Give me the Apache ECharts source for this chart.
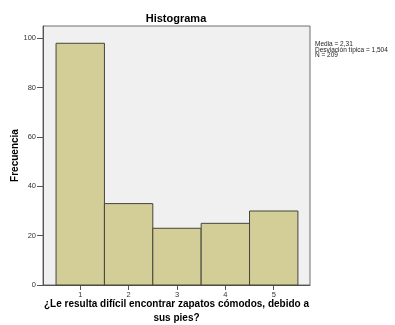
<!DOCTYPE html>
<html>
<head>
<meta charset="utf-8">
<script src="https://cdn.jsdelivr.net/npm/echarts@6/dist/echarts.min.js"></script>
<style>
  html, body { margin: 0; padding: 0; background: #ffffff; }
  #chart { width: 395px; height: 325px; }
</style>
</head>
<body>
<div id="chart"></div>
<script>
// Response categories (1-5) and their frequencies
const categories = [1, 2, 3, 4, 5];
const frequencies = [98, 33, 23, 25, 30];
const yTicks = [0, 20, 40, 60, 80, 100];
const statsLines = ['Media = 2,31', 'Desviación típica = 1,504', 'N = 209'];

const FONT = '"Liberation Sans", Arial, sans-serif';

const barData = categories.map((c, i) => [c, frequencies[i]]);

const chart = echarts.init(document.getElementById('chart'), null, { renderer: 'canvas' });

chart.setOption({
  animation: false,
  backgroundColor: '#ffffff',
  title: {
    text: 'Histograma',
    left: 176,
    textAlign: 'center',
    top: 13,
    padding: 0,
    textStyle: { fontFamily: FONT, fontSize: 11, fontWeight: 'bold', color: '#000' }
  },
  grid: {
    left: 43, top: 26, right: 85, bottom: 40,
    outerBoundsMode: 'none',
    containLabel: false,
    show: true,
    backgroundColor: '#f0f0f0',
    borderColor: '#6e6e6e',
    borderWidth: 1
  },
  xAxis: {
    type: 'value',
    min: 0.23,
    max: 5.75,
    name: '¿Le resulta difícil encontrar zapatos cómodos, debido a\nsus pies?',
    nameLocation: 'middle',
    nameGap: 12,
    nameMoveOverlap: false,
    nameTextStyle: {
      fontFamily: FONT, fontSize: 10, fontWeight: 'bold', color: '#000',
      lineHeight: 14, verticalAlign: 'top', align: 'center'
    },
    axisLine: { show: true, lineStyle: { color: '#555', width: 1 } },
    axisTick: { show: true, inside: false, length: 5, customValues: categories, lineStyle: { color: '#555' } },
    axisLabel: {
      customValues: categories,
      fontFamily: FONT, fontSize: 7.5, color: '#333', margin: 6
    },
    splitLine: { show: false }
  },
  yAxis: {
    type: 'value',
    min: 0,
    max: 105,
    name: 'Frecuencia',
    nameLocation: 'middle',
    nameGap: 23,
    nameMoveOverlap: false,
    nameTextStyle: { fontFamily: FONT, fontSize: 10, fontWeight: 'bold', color: '#000' },
    axisLine: { show: true, lineStyle: { color: '#555', width: 1 } },
    axisTick: { show: true, inside: false, length: 6, customValues: yTicks, lineStyle: { color: '#555' } },
    axisLabel: {
      customValues: yTicks,
      fontFamily: FONT, fontSize: 7.5, color: '#333', margin: 7
    },
    splitLine: { show: false }
  },
  graphic: [{
    type: 'text',
    left: 315,
    top: 41,
    style: {
      text: statsLines.join('\n'),
      fontFamily: FONT,
      fontSize: 6.5,
      lineHeight: 5.5,
      fill: '#222'
    }
  }],
  series: [{
    type: 'custom',
    data: barData,
    renderItem: function (params, api) {
      const x = api.value(0);
      const y = api.value(1);
      const topLeft = api.coord([x - 0.5, y]);
      const bottomRight = api.coord([x + 0.5, 0]);
      return {
        type: 'rect',
        shape: {
          x: topLeft[0],
          y: topLeft[1],
          width: bottomRight[0] - topLeft[0],
          height: bottomRight[1] - topLeft[1]
        },
        style: { fill: '#d3ce97', stroke: '#45453a', lineWidth: 1 }
      };
    }
  }]
});
</script>
</body>
</html>
